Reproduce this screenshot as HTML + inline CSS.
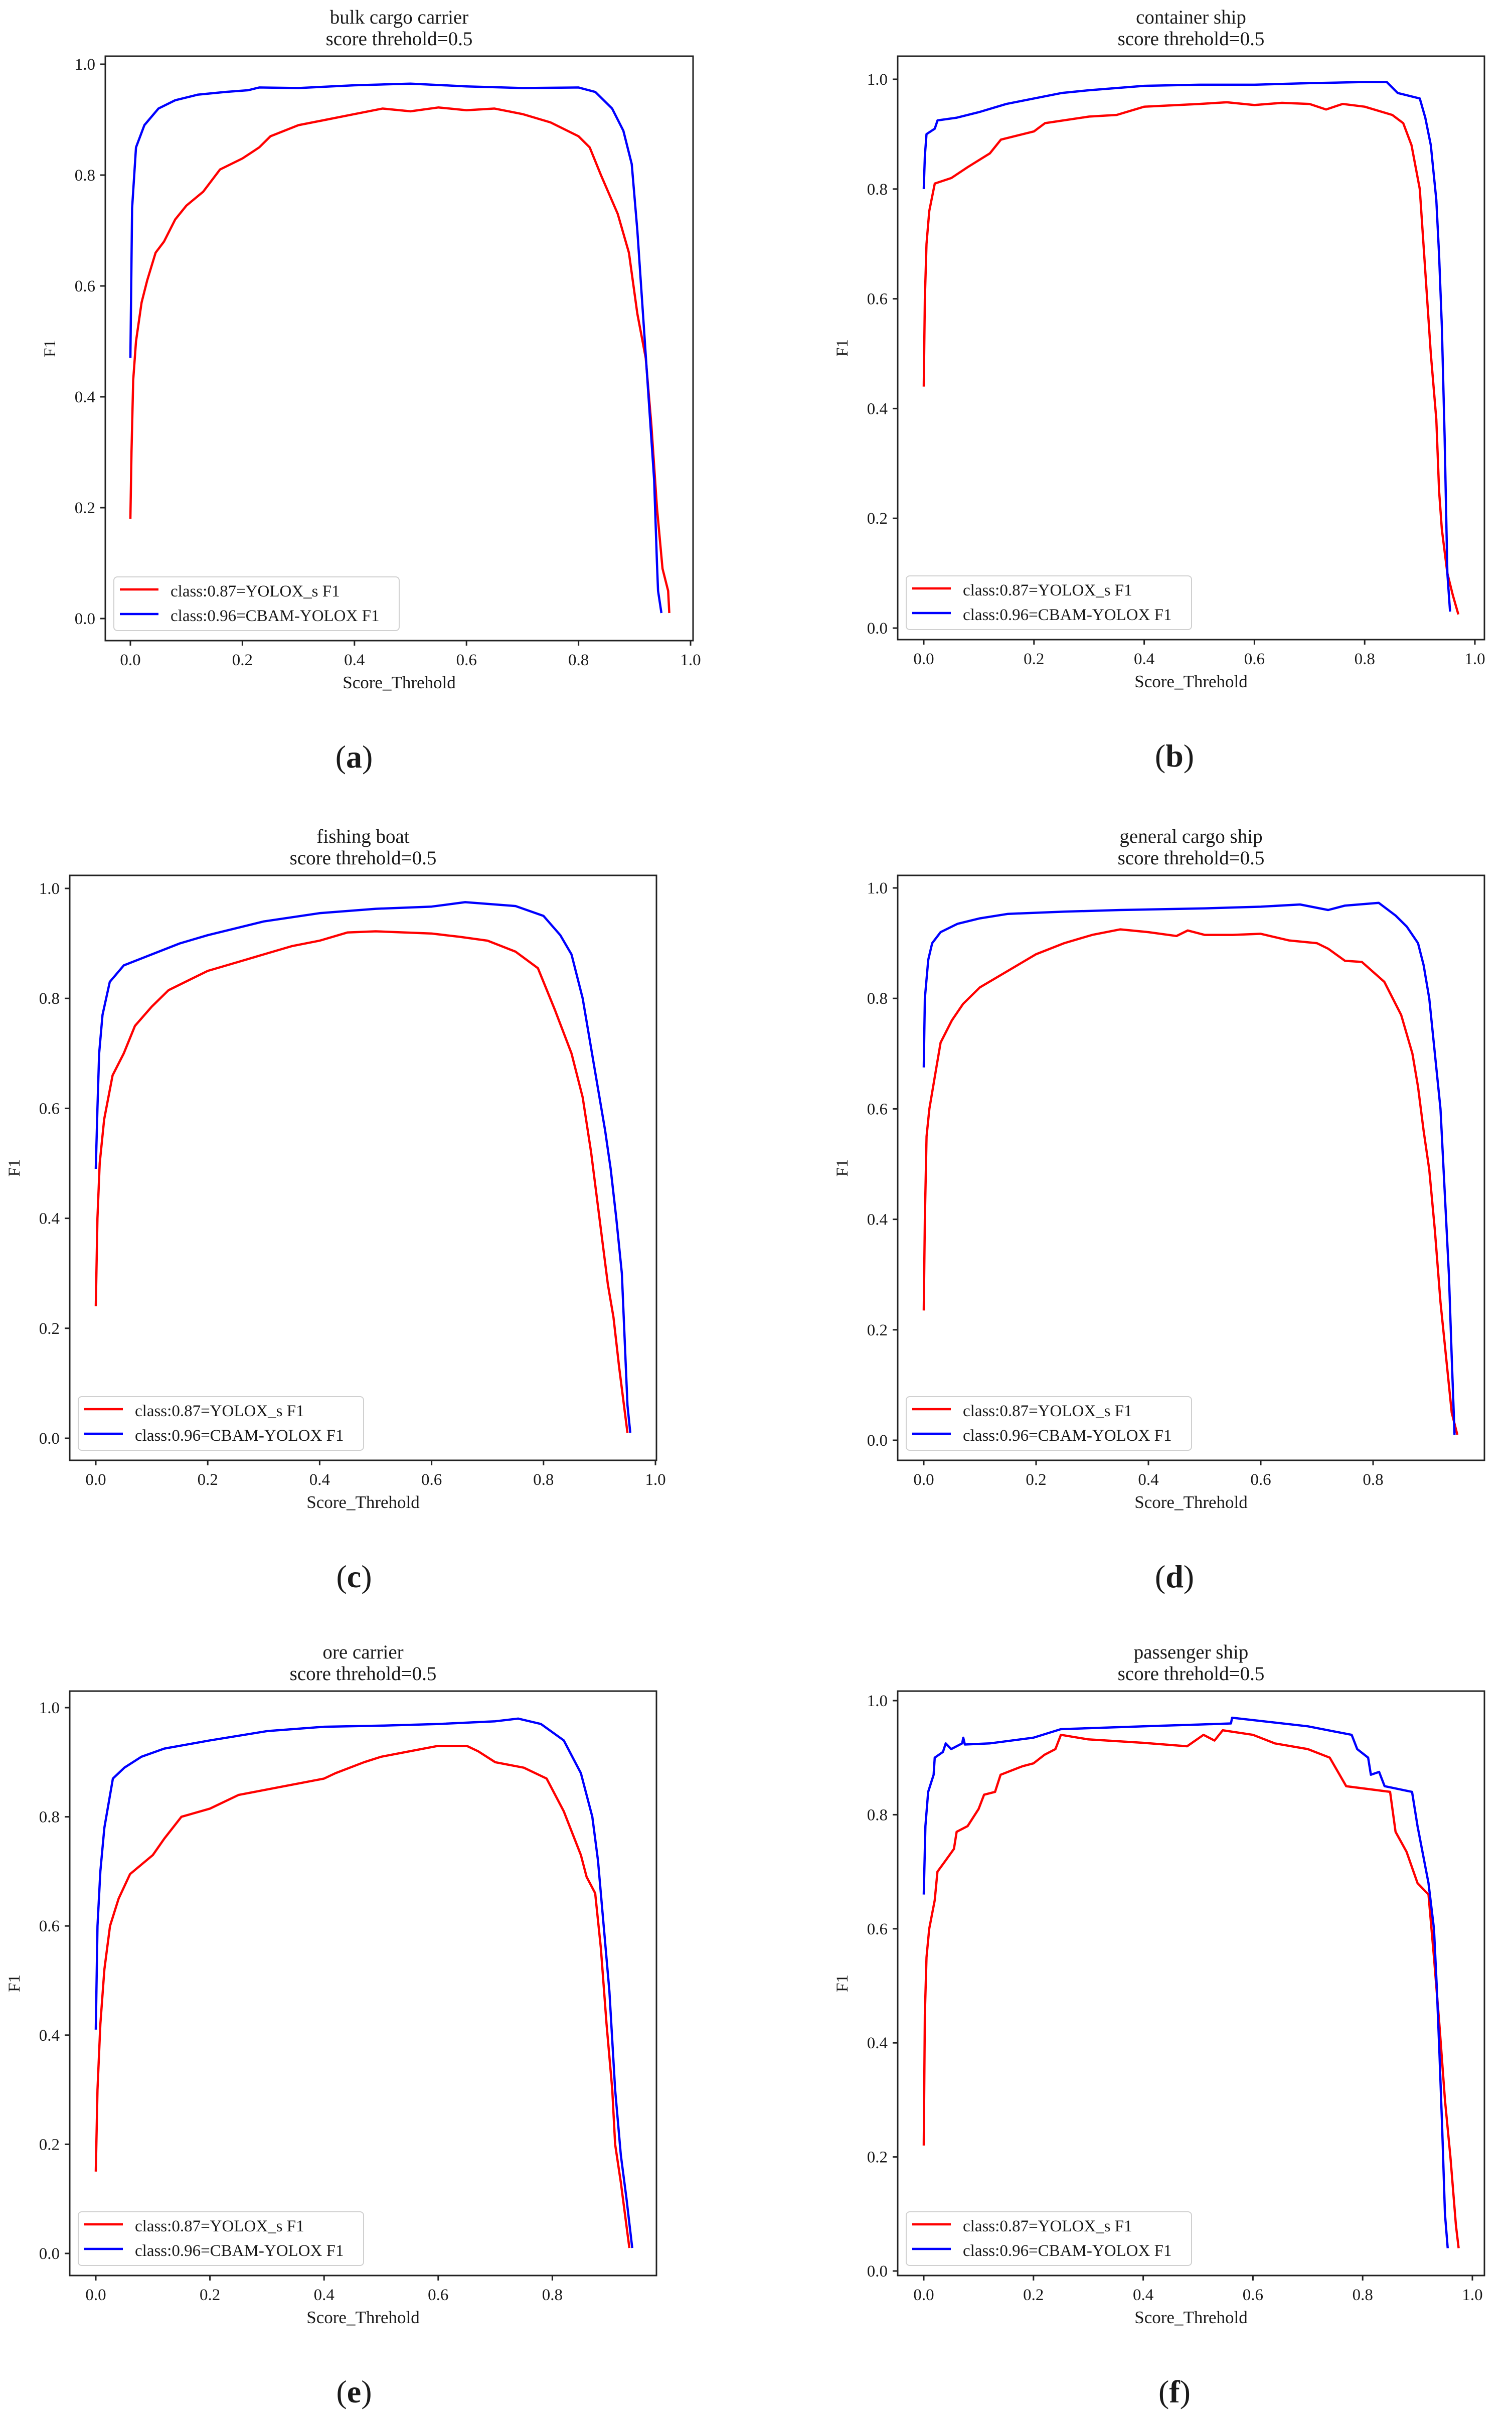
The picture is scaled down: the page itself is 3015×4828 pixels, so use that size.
<!DOCTYPE html>
<html><head><meta charset="utf-8"><style>
html,body{margin:0;padding:0;background:#fff;}
svg{display:block;}
text{font-family:"Liberation Serif",serif;fill:#1a1a1a;}
</style></head><body>
<svg id="fig" xmlns="http://www.w3.org/2000/svg" width="3015" height="4828" viewBox="0 0 3015 4828">
<rect width="3015" height="4828" fill="#fff"/>
</svg>
<script>
// ---- data (x = score threshold, y = F1) ----
const titles = ["bulk cargo carrier","container ship","fishing boat","general cargo ship","ore carrier","passenger ship"];
const panelLabels = ["a","b","c","d","e","f"];
const legendLabels = ["class:0.87=YOLOX_s F1","class:0.96=CBAM-YOLOX F1"];
const yTicks = [0.0,0.2,0.4,0.6,0.8,1.0];
const xTicks = [0.0,0.2,0.4,0.6,0.8,1.0];

const aRedX=[0,0.002,0.005,0.01,0.02,0.03,0.045,0.06,0.08,0.1,0.13,0.16,0.2,0.23,0.25,0.3,0.35,0.4,0.45,0.5,0.55,0.6,0.65,0.7,0.75,0.8,0.82,0.84,0.87,0.89,0.905,0.92,0.93,0.94,0.95,0.96,0.962];
const aRedY=[0.18,0.3,0.43,0.5,0.57,0.61,0.66,0.68,0.72,0.745,0.77,0.81,0.83,0.85,0.87,0.89,0.9,0.91,0.92,0.915,0.922,0.917,0.92,0.91,0.895,0.87,0.85,0.8,0.73,0.66,0.55,0.47,0.35,0.2,0.09,0.05,0.01];
const aBlueX=[0,0.003,0.01,0.025,0.05,0.08,0.12,0.17,0.21,0.23,0.3,0.4,0.5,0.6,0.7,0.8,0.83,0.86,0.88,0.895,0.905,0.915,0.925,0.935,0.94,0.942,0.948];
const aBlueY=[0.47,0.74,0.85,0.89,0.92,0.935,0.945,0.95,0.953,0.958,0.957,0.962,0.965,0.96,0.957,0.958,0.95,0.92,0.88,0.82,0.7,0.55,0.4,0.25,0.1,0.05,0.01];

const bRedX=[0,0.002,0.005,0.01,0.02,0.05,0.08,0.12,0.14,0.2,0.22,0.3,0.35,0.4,0.5,0.55,0.6,0.65,0.7,0.73,0.76,0.8,0.85,0.87,0.885,0.9,0.91,0.92,0.93,0.935,0.94,0.95,0.96,0.97];
const bRedY=[0.44,0.6,0.7,0.76,0.81,0.82,0.84,0.865,0.89,0.905,0.92,0.932,0.935,0.95,0.955,0.958,0.953,0.957,0.955,0.945,0.955,0.95,0.935,0.92,0.88,0.8,0.65,0.5,0.38,0.25,0.18,0.1,0.06,0.025];
const bBlueX=[0,0.002,0.005,0.02,0.025,0.06,0.1,0.15,0.2,0.25,0.3,0.4,0.5,0.6,0.7,0.8,0.84,0.86,0.9,0.91,0.92,0.93,0.935,0.94,0.945,0.948,0.95,0.955];
const bBlueY=[0.8,0.86,0.9,0.91,0.925,0.93,0.94,0.955,0.965,0.975,0.98,0.988,0.99,0.99,0.993,0.995,0.995,0.975,0.965,0.93,0.88,0.78,0.68,0.55,0.35,0.2,0.1,0.03];

const cRedX=[0,0.003,0.007,0.015,0.03,0.05,0.07,0.1,0.13,0.17,0.2,0.25,0.3,0.35,0.4,0.45,0.5,0.6,0.65,0.7,0.75,0.79,0.82,0.85,0.87,0.885,0.9,0.915,0.925,0.935,0.945,0.95];
const cRedY=[0.24,0.4,0.5,0.58,0.66,0.7,0.75,0.785,0.815,0.835,0.85,0.865,0.88,0.895,0.905,0.92,0.922,0.918,0.912,0.905,0.885,0.855,0.78,0.7,0.62,0.52,0.4,0.28,0.22,0.13,0.05,0.01];
const cBlueX=[0,0.003,0.006,0.012,0.025,0.05,0.1,0.15,0.2,0.3,0.4,0.5,0.6,0.66,0.75,0.8,0.83,0.85,0.87,0.89,0.91,0.92,0.93,0.94,0.945,0.95,0.955];
const cBlueY=[0.49,0.6,0.7,0.77,0.83,0.86,0.88,0.9,0.915,0.94,0.955,0.963,0.967,0.975,0.968,0.95,0.915,0.88,0.8,0.68,0.56,0.49,0.4,0.3,0.18,0.06,0.01];

const dRedX=[0,0.002,0.005,0.01,0.02,0.03,0.05,0.07,0.1,0.15,0.2,0.25,0.3,0.35,0.4,0.45,0.47,0.5,0.55,0.6,0.65,0.7,0.72,0.75,0.78,0.82,0.85,0.87,0.88,0.89,0.9,0.91,0.92,0.93,0.94,0.95];
const dRedY=[0.235,0.4,0.55,0.6,0.66,0.72,0.76,0.79,0.82,0.85,0.88,0.9,0.915,0.925,0.92,0.913,0.923,0.915,0.915,0.917,0.905,0.9,0.89,0.868,0.866,0.83,0.77,0.7,0.64,0.56,0.49,0.38,0.25,0.15,0.05,0.01];
const dBlueX=[0,0.002,0.008,0.015,0.03,0.06,0.1,0.15,0.25,0.35,0.5,0.6,0.67,0.72,0.75,0.81,0.84,0.86,0.88,0.89,0.9,0.91,0.92,0.925,0.93,0.935,0.94,0.945];
const dBlueY=[0.675,0.8,0.87,0.9,0.92,0.935,0.945,0.953,0.957,0.96,0.963,0.966,0.97,0.96,0.968,0.973,0.95,0.93,0.9,0.86,0.8,0.7,0.6,0.5,0.4,0.3,0.15,0.01];

const eRedX=[0,0.003,0.008,0.015,0.025,0.04,0.06,0.1,0.12,0.15,0.2,0.25,0.3,0.35,0.4,0.42,0.47,0.5,0.55,0.6,0.65,0.67,0.7,0.75,0.79,0.82,0.85,0.86,0.875,0.885,0.895,0.905,0.91,0.92,0.93,0.935];
const eRedY=[0.15,0.3,0.42,0.52,0.6,0.65,0.695,0.73,0.76,0.8,0.815,0.84,0.85,0.86,0.87,0.88,0.9,0.91,0.92,0.93,0.93,0.92,0.9,0.89,0.87,0.81,0.73,0.69,0.66,0.56,0.42,0.3,0.2,0.13,0.05,0.01];
const eBlueX=[0,0.003,0.008,0.015,0.03,0.05,0.08,0.12,0.2,0.3,0.4,0.5,0.6,0.7,0.74,0.78,0.82,0.85,0.87,0.88,0.89,0.9,0.91,0.92,0.93,0.94];
const eBlueY=[0.41,0.6,0.7,0.78,0.87,0.89,0.91,0.925,0.94,0.957,0.965,0.967,0.97,0.975,0.98,0.97,0.94,0.88,0.8,0.72,0.6,0.48,0.3,0.18,0.1,0.01];

const fRedX=[0,0.002,0.005,0.01,0.02,0.025,0.04,0.055,0.06,0.08,0.1,0.11,0.13,0.14,0.18,0.2,0.22,0.24,0.25,0.3,0.4,0.48,0.51,0.53,0.545,0.6,0.64,0.7,0.74,0.77,0.85,0.86,0.88,0.9,0.92,0.93,0.94,0.95,0.96,0.97,0.975];
const fRedY=[0.22,0.45,0.55,0.6,0.65,0.7,0.72,0.74,0.77,0.78,0.81,0.835,0.84,0.87,0.885,0.89,0.905,0.915,0.94,0.932,0.926,0.92,0.94,0.93,0.948,0.94,0.925,0.915,0.9,0.85,0.84,0.77,0.735,0.68,0.66,0.55,0.43,0.3,0.2,0.08,0.04];
const fBlueX=[0,0.003,0.008,0.018,0.02,0.035,0.04,0.05,0.07,0.072,0.075,0.12,0.2,0.25,0.4,0.5,0.56,0.562,0.7,0.78,0.79,0.81,0.815,0.83,0.84,0.89,0.9,0.92,0.93,0.935,0.94,0.945,0.95,0.955];
const fBlueY=[0.66,0.78,0.84,0.87,0.9,0.91,0.925,0.915,0.925,0.935,0.923,0.925,0.935,0.95,0.955,0.958,0.96,0.97,0.955,0.94,0.915,0.9,0.87,0.875,0.85,0.84,0.78,0.68,0.6,0.5,0.38,0.25,0.1,0.04];

const redXs=[aRedX,bRedX,cRedX,dRedX,eRedX,fRedX];
const redYs=[aRedY,bRedY,cRedY,dRedY,eRedY,fRedY];
const blueXs=[aBlueX,bBlueX,cBlueX,dBlueX,eBlueX,fBlueX];
const blueYs=[aBlueY,bBlueY,cBlueY,dBlueY,eBlueY,fBlueY];

// ---- layout (pixels) ----
const layout=[
 {L:210,R:1382,T:112,B:1277,x0:260,x1:1377,y0:1233,y1:128,lx:706},
 {L:1790,R:2960,T:112,B:1275,x0:1842,x1:2941,y0:1252,y1:158,lx:2342},
 {L:139,R:1309,T:1745,B:2911,x0:191,x1:1307,y0:2867,y1:1771,lx:706},
 {L:1790,R:2960,T:1745,B:2911,x0:1842,x1:2962,y0:2871,y1:1770,lx:2342},
 {L:139,R:1309,T:3371,B:4536,x0:191,x1:1329,y0:4492,y1:3404,lx:706},
 {L:1790,R:2960,T:3371,B:4536,x0:1842,x1:2936,y0:4527,y1:3390,lx:2342}
];
const NS="http://www.w3.org/2000/svg";
const svg=document.getElementById('fig');
function mk(tag,attrs,parent){const e=document.createElementNS(NS,tag);for(const k in attrs)e.setAttribute(k,attrs[k]);(parent||svg).appendChild(e);return e;}

layout.forEach((p,i)=>{
  const g=mk('g',{});
  
  
  const sx=v=>p.x0+(p.x1-p.x0)*v;
  const sy=v=>p.y0+(p.y1-p.y0)*v;
  const cx=(p.L+p.R)/2;
  const t1=mk('text',{x:cx,y:p.T-65,'text-anchor':'middle','font-size':39},g);
  t1.textContent=titles[i];
  
  
  const t2=mk('text',{x:cx,y:p.T-22,'text-anchor':'middle','font-size':39,'xml:space':'preserve'},g);
  t2.textContent='score  threhold=0.5';
  
  
  function series(xs,ys,color,name){
    let d='';
    xs.forEach((x,k)=>{d+=(k?'L':'M')+sx(x).toFixed(1)+' '+sy(ys[k]).toFixed(1);});
    const pth=mk('path',{d:d,fill:'none',stroke:color,'stroke-width':4.5,'stroke-linejoin':'round'},g);
    
    
  }
  series(redXs[i],redYs[i],'#ff0000','yolox-s-f1-line');
  series(blueXs[i],blueYs[i],'#0000ff','cbam-yolox-f1-line');
  const fr=mk('rect',{x:p.L,y:p.T,width:p.R-p.L,height:p.B-p.T,fill:'none',stroke:'#222','stroke-width':3},g);
  
  
  yTicks.forEach(v=>{
    const y=sy(v);
    mk('line',{x1:p.L-10,x2:p.L,y1:y,y2:y,stroke:'#222','stroke-width':3},g);
    const t=mk('text',{x:p.L-20,y:y+11,'text-anchor':'end','font-size':33},g);
    t.textContent=v.toFixed(1);
    
    
  });
  xTicks.forEach(v=>{
    const x=sx(v);
    if(x>p.R)return;
    mk('line',{x1:x,x2:x,y1:p.B,y2:p.B+10,stroke:'#222','stroke-width':3},g);
    const t=mk('text',{x:x,y:p.B+49,'text-anchor':'middle','font-size':33},g);
    t.textContent=v.toFixed(1);
    
    
  });
  const xl=mk('text',{x:cx,y:p.B+95,'text-anchor':'middle','font-size':35},g);
  xl.textContent='Score_Threhold';
  
  
  const yx=p.L-100, yc=(p.T+p.B)/2;
  const yl=mk('text',{x:yx,y:yc,'text-anchor':'middle','font-size':33,transform:'rotate(-90 '+yx+' '+yc+')'},g);
  yl.textContent='F1';
  
  
  const lg=mk('g',{},g);
  
  
  const lL=p.L+17, lT=p.B-127;
  mk('rect',{x:lL,y:lT,width:569,height:107,rx:7,fill:'#fff','fill-opacity':0.85,stroke:'#d0d0d0','stroke-width':2},lg);
  const cols=['#ff0000','#0000ff'];
  [0,1].forEach(k=>{
    const ly=lT+25+49*k;
    const ln=mk('line',{x1:lL+12,x2:lL+89,y1:ly,y2:ly,stroke:cols[k],'stroke-width':4.5},lg);
    
    
    const t=mk('text',{x:lL+113,y:lT+39+49*k,'font-size':33},lg);
    t.textContent=legendLabels[k];
    
    
  });
  const pl=mk('text',{x:p.lx,y:p.B+253,'text-anchor':'middle','font-size':64},g);
  
  
  const s1=mk('tspan',{},pl); s1.textContent='(';
  const s2=mk('tspan',{'font-weight':'bold'},pl); s2.textContent=panelLabels[i];
  const s3=mk('tspan',{},pl); s3.textContent=')';
});
</script>
</body></html>
